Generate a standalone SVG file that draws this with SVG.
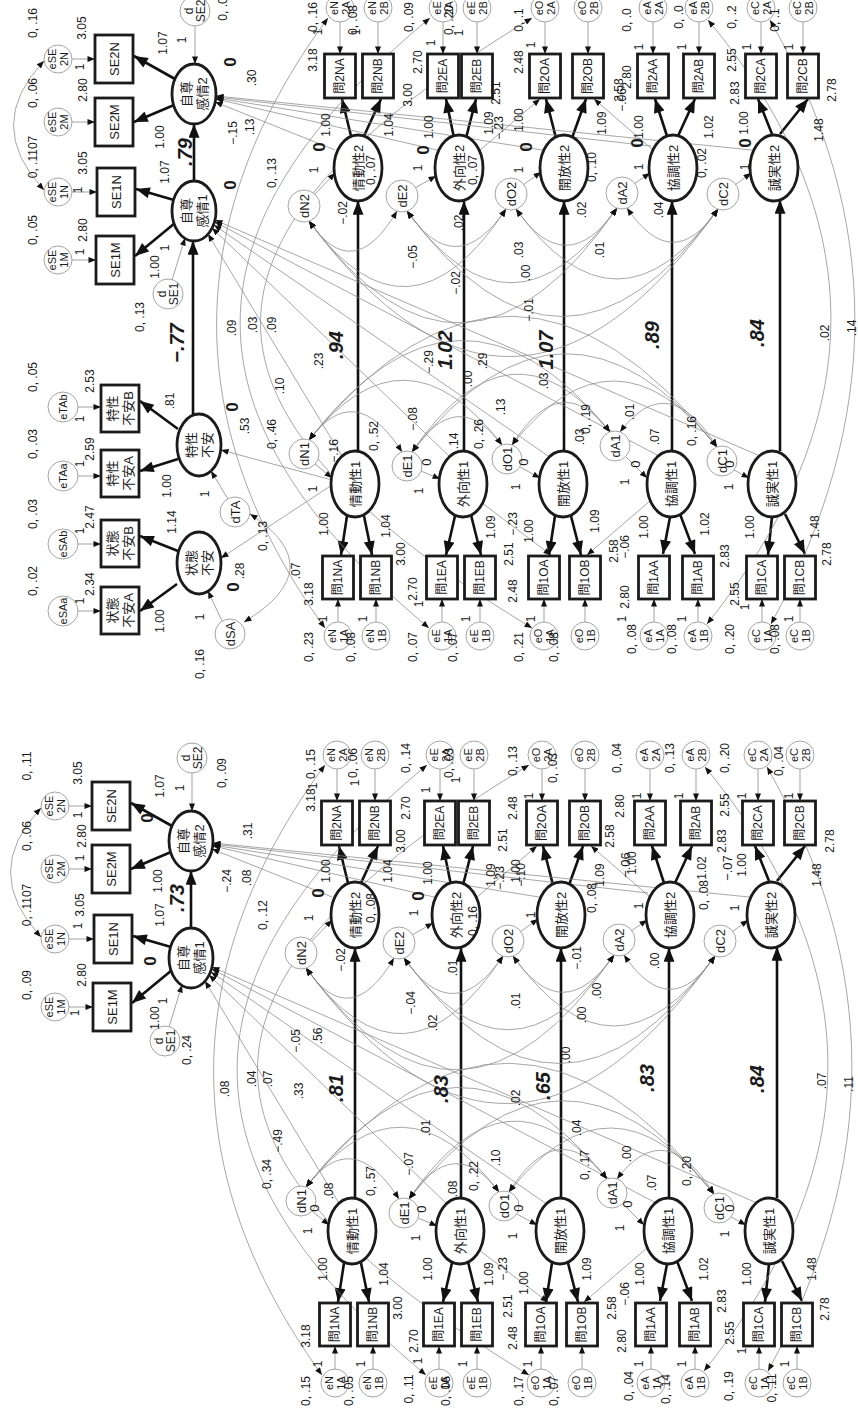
<svg xmlns="http://www.w3.org/2000/svg" width="858" height="1415" viewBox="0 0 858 1415">
<defs>
<style>
.bx{fill:#fff;stroke:#1b1b1b;stroke-width:2.8}
.lv{fill:#fff;stroke:#1b1b1b;stroke-width:2.8}
.ec{fill:#fff;stroke:#9a9a9a;stroke-width:0.9}
.ar{fill:none;stroke:#111;stroke-width:2.6;marker-end:url(#mb)}
.ea{fill:none;stroke:#8a8a8a;stroke-width:0.8;marker-end:url(#ms)}
.cv{fill:none;stroke:#8a8a8a;stroke-width:0.75;marker-start:url(#mr);marker-end:url(#ms)}
.tl{fill:none;stroke:#8a8a8a;stroke-width:0.75;marker-end:url(#ms)}
text{font-family:"Liberation Sans","Noto Sans CJK JP",sans-serif;fill:#1b1b1b;text-anchor:middle;dominant-baseline:central;font-size:12px}
.nt{font-size:13px}
.et{font-size:11px}
.k{font-size:20px;font-weight:bold;font-style:italic}
.z{font-size:17px;font-weight:bold}
</style>
<marker id="mb" viewBox="0 0 10 8" refX="10" refY="4" markerWidth="15" markerHeight="11" markerUnits="userSpaceOnUse" orient="auto"><path d="M0,0 L10,4 L0,8 z" fill="#111"/></marker>
<marker id="ms" viewBox="0 0 10 8" refX="10" refY="4" markerWidth="8" markerHeight="6" markerUnits="userSpaceOnUse" orient="auto"><path d="M0,0 L10,4 L0,8 z" fill="#111"/></marker>
<marker id="mr" viewBox="0 0 10 8" refX="10" refY="4" markerWidth="8" markerHeight="6" markerUnits="userSpaceOnUse" orient="auto-start-reverse"><path d="M0,0 L10,4 L0,8 z" fill="#111"/></marker>
</defs>
<rect x="0" y="0" width="858" height="1415" fill="#fff"/>
<g transform="translate(0,1415) rotate(-90)">

<g id="L">
<g id="L_connectors">
<path class="ar" d="M217,355 H467"/><path class="ar" d="M217,461 H467"/><path class="ar" d="M217,561 H467"/><path class="ar" d="M217,669 H467"/><path class="ar" d="M217,777 H468"/>
<path class="ar" d="M487,191 H544"/>
<path class="ar" d="M445,172 L412,132"/><path class="ar" d="M468,171 L479,133"/><path class="ar" d="M563,171 L546,131"/><path class="ar" d="M589,172 L612,131"/>
<path class="ar" d="M152,344 L113,338"/><path class="ar" d="M152,361 L113,369"/><path class="ar" d="M152,452 L113,443"/><path class="ar" d="M153,468 L113,478"/><path class="ar" d="M152,552 L113,546"/><path class="ar" d="M152,568 L113,578"/><path class="ar" d="M151,667 L114,660"/><path class="ar" d="M154,677 L114,692"/><path class="ar" d="M151,769 L113,765"/><path class="ar" d="M154,782 L114,802"/>
<path class="ar" d="M532,348 L569,339"/><path class="ar" d="M532,361 L569,378"/><path class="ar" d="M530,451 L569,443"/><path class="ar" d="M530,463 L569,473"/><path class="ar" d="M530,553 L569,543"/><path class="ar" d="M530,569 L569,583"/><path class="ar" d="M532,664 L569,652"/><path class="ar" d="M532,675 L569,692"/><path class="ar" d="M534,769 L569,755"/><path class="ar" d="M534,777 L569,805"/>
<path class="ea" d="M46,335 H69"/><path class="ea" d="M46,373 H69"/><path class="ea" d="M46,439 H69"/><path class="ea" d="M46,477 H69"/><path class="ea" d="M46,541 H69"/><path class="ea" d="M46,582 H69"/><path class="ea" d="M46,651 H69"/><path class="ea" d="M46,695 H69"/><path class="ea" d="M46,759 H69"/><path class="ea" d="M46,797 H69"/>
<path class="ea" d="M646,337 H614"/><path class="ea" d="M646,375 H614"/><path class="ea" d="M646,440 H614"/><path class="ea" d="M646,474 H614"/><path class="ea" d="M646,542 H614"/><path class="ea" d="M646,585 H614"/><path class="ea" d="M646,650 H614"/><path class="ea" d="M646,696 H614"/><path class="ea" d="M646,758 H614"/><path class="ea" d="M646,800 H614"/>
<path class="ea" d="M408,69 V93"/><path class="ea" d="M476,69 V94"/><path class="ea" d="M546,69 V92"/><path class="ea" d="M609,69 V92"/>
<path class="ea" d="M388,169 L430,182"/><path class="ea" d="M642,192 H604"/>
<path class="ea" d="M204,312 L190,329"/><path class="ea" d="M197,418 L189,437"/><path class="ea" d="M201,517 L190,537"/><path class="ea" d="M211,623 L190,644"/><path class="ea" d="M198,731 L190,746"/>
<path class="ea" d="M473,311 L495,332"/><path class="ea" d="M480,412 L492,433"/><path class="ea" d="M483,520 L496,538"/><path class="ea" d="M484,631 L495,647"/><path class="ea" d="M483,732 L495,748"/>
<path class="tl" d="M210,340 L434,205"/><path class="tl" d="M210,448 L440,209"/><path class="tl" d="M210,548 L443,211"/><path class="tl" d="M212,656 L446,212"/><path class="tl" d="M212,757 L448,212"/>
<path class="tl" d="M518,332 L566,212"/><path class="tl" d="M518,434 L569,213"/><path class="tl" d="M518,539 L570,213"/><path class="tl" d="M522,648 L571,213"/><path class="tl" d="M518,749 L572,213"/>
<path class="tl" d="M165,479 L113,548"/><path class="tl" d="M167,647 L113,584"/><path class="tl" d="M517,476 L569,537"/><path class="tl" d="M518,650 L569,591"/>
<path class="cv" d="M478,41 Q543,-20 607,41"/>
<path class="cv" d="M447,306 Q382,350 457,394"/><path class="cv" d="M447,306 Q310,405 459,503"/><path class="cv" d="M447,306 Q237,460 460,614"/><path class="cv" d="M447,306 Q170,510 459,715"/>
<path class="cv" d="M457,404 Q385,453 459,503"/><path class="cv" d="M457,404 Q312,509 460,614"/><path class="cv" d="M457,404 Q245,560 459,715"/>
<path class="cv" d="M459,513 Q386,563 460,614"/><path class="cv" d="M459,513 Q319,614 459,715"/><path class="cv" d="M460,624 Q392,670 459,715"/>
<path class="cv" d="M228,306 Q290,352 216,399"/><path class="cv" d="M228,306 Q350,402 223,499"/><path class="cv" d="M228,306 Q423,456 236,607"/><path class="cv" d="M228,306 Q479,510 221,714"/>
<path class="cv" d="M216,409 Q283,454 223,499"/><path class="cv" d="M216,409 Q361,508 236,607"/><path class="cv" d="M216,409 Q410,561 221,714"/>
<path class="cv" d="M223,509 Q301,558 236,607"/><path class="cv" d="M223,509 Q352,611 221,714"/><path class="cv" d="M236,617 Q300,665 221,714"/>
<path class="cv" d="M40,322 C240,177 450,177 650,325"/><path class="cv" d="M40,426 C250,174 440,174 650,427"/><path class="cv" d="M40,529 C260,167 430,167 650,529"/>
<path class="cv" d="M44,704 C250,869 450,869 648,705"/><path class="cv" d="M44,768 C250,880 450,880 648,767"/>
</g>
<g id="L_SE1M"><rect class="bx" x="384" y="93" width="48" height="38"/><text class="nt" x="408" y="112">SE1M</text></g>
<g id="L_SE1N"><rect class="bx" x="452" y="94" width="48" height="38"/><text class="nt" x="476" y="113">SE1N</text></g>
<g id="L_SE2M"><rect class="bx" x="522" y="92" width="48" height="38"/><text class="nt" x="546" y="111">SE2M</text></g>
<g id="L_SE2N"><rect class="bx" x="585" y="92" width="48" height="38"/><text class="nt" x="609" y="111">SE2N</text></g>
<g id="L_eSE1M"><circle class="ec" cx="408" cy="55" r="14"/><text class="et" x="408" y="55"><tspan x="408" dy="-6">eSE</tspan><tspan x="408" dy="12">1M</tspan></text></g>
<g id="L_eSE1N"><circle class="ec" cx="476" cy="55" r="14"/><text class="et" x="476" y="55"><tspan x="476" dy="-6">eSE</tspan><tspan x="476" dy="12">1N</tspan></text></g>
<g id="L_eSE2M"><circle class="ec" cx="546" cy="55" r="14"/><text class="et" x="546" y="55"><tspan x="546" dy="-6">eSE</tspan><tspan x="546" dy="12">2M</tspan></text></g>
<g id="L_eSE2N"><circle class="ec" cx="609" cy="55" r="14"/><text class="et" x="609" y="55"><tspan x="609" dy="-6">eSE</tspan><tspan x="609" dy="12">2N</tspan></text></g>
<g id="L_SE1"><ellipse class="lv" cx="457" cy="191" rx="30" ry="22"/><text class="nt" x="457" y="191"><tspan x="457" dy="-8">自尊</tspan><tspan x="457" dy="16">感情1</tspan></text></g>
<g id="L_SE2"><ellipse class="lv" cx="574" cy="191" rx="30" ry="22"/><text class="nt" x="574" y="191"><tspan x="574" dy="-8">自尊</tspan><tspan x="574" dy="16">感情2</tspan></text></g>
<g id="L_dSE1"><circle class="ec" cx="374" cy="165" r="15"/><text x="374" y="165"><tspan x="374" dy="-6">d</tspan><tspan x="374" dy="12">SE1</tspan></text></g>
<g id="L_dSE2"><circle class="ec" cx="657" cy="192" r="15"/><text x="657" y="192"><tspan x="657" dy="-6">d</tspan><tspan x="657" dy="12">SE2</tspan></text></g>
<g id="L_N1"><ellipse class="lv" cx="184" cy="352" rx="33" ry="24"/><text class="nt" x="184" y="352">情動性1</text></g>
<g id="L_E1"><ellipse class="lv" cx="184" cy="460" rx="33" ry="24"/><text class="nt" x="184" y="460">外向性1</text></g>
<g id="L_O1"><ellipse class="lv" cx="184" cy="560" rx="33" ry="24"/><text class="nt" x="184" y="560">開放性1</text></g>
<g id="L_A1"><ellipse class="lv" cx="184" cy="668" rx="33" ry="24"/><text class="nt" x="184" y="668">協調性1</text></g>
<g id="L_C1"><ellipse class="lv" cx="184" cy="769" rx="33" ry="24"/><text class="nt" x="184" y="769">誠実性1</text></g>
<g id="L_N2"><ellipse class="lv" cx="500" cy="355" rx="33" ry="24"/><text class="nt" x="500" y="355">情動性2</text></g>
<g id="L_E2"><ellipse class="lv" cx="500" cy="456" rx="33" ry="24"/><text class="nt" x="500" y="456">外向性2</text></g>
<g id="L_O2"><ellipse class="lv" cx="500" cy="561" rx="33" ry="24"/><text class="nt" x="500" y="561">開放性2</text></g>
<g id="L_A2"><ellipse class="lv" cx="500" cy="670" rx="33" ry="24"/><text class="nt" x="500" y="670">協調性2</text></g>
<g id="L_C2"><ellipse class="lv" cx="500" cy="771" rx="33" ry="24"/><text class="nt" x="500" y="771">誠実性2</text></g>
<g id="L_dN1"><circle class="ec" cx="214" cy="301" r="15"/><text class="nt" x="214" y="301">dN1</text></g>
<g id="L_dE1"><circle class="ec" cx="202" cy="404" r="15"/><text class="nt" x="202" y="404">dE1</text></g>
<g id="L_dO1"><circle class="ec" cx="209" cy="504" r="15"/><text class="nt" x="209" y="504">dO1</text></g>
<g id="L_dA1"><circle class="ec" cx="222" cy="612" r="15"/><text class="nt" x="222" y="612">dA1</text></g>
<g id="L_dC1"><circle class="ec" cx="207" cy="719" r="15"/><text class="nt" x="207" y="719">dC1</text></g>
<g id="L_dN2"><circle class="ec" cx="462" cy="301" r="16"/><text class="nt" x="462" y="301">dN2</text></g>
<g id="L_dE2"><circle class="ec" cx="472" cy="399" r="16"/><text class="nt" x="472" y="399">dE2</text></g>
<g id="L_dO2"><circle class="ec" cx="474" cy="508" r="16"/><text class="nt" x="474" y="508">dO2</text></g>
<g id="L_dA2"><circle class="ec" cx="475" cy="619" r="16"/><text class="nt" x="475" y="619">dA2</text></g>
<g id="L_dC2"><circle class="ec" cx="474" cy="720" r="16"/><text class="nt" x="474" y="720">dC2</text></g>
<g id="L_q1NA"><rect class="bx" x="69" y="319.5" width="43" height="31"/><text x="90.5" y="335">問1NA</text></g>
<g id="L_q1NB"><rect class="bx" x="69" y="357.5" width="43" height="31"/><text x="90.5" y="373">問1NB</text></g>
<g id="L_q1EA"><rect class="bx" x="69" y="423.5" width="43" height="31"/><text x="90.5" y="439">問1EA</text></g>
<g id="L_q1EB"><rect class="bx" x="69" y="461.5" width="43" height="31"/><text x="90.5" y="477">問1EB</text></g>
<g id="L_q1OA"><rect class="bx" x="69" y="525.5" width="43" height="31"/><text x="90.5" y="541">問1OA</text></g>
<g id="L_q1OB"><rect class="bx" x="69" y="566.5" width="43" height="31"/><text x="90.5" y="582">問1OB</text></g>
<g id="L_q1AA"><rect class="bx" x="69" y="635.5" width="43" height="31"/><text x="90.5" y="651">問1AA</text></g>
<g id="L_q1AB"><rect class="bx" x="69" y="679.5" width="43" height="31"/><text x="90.5" y="695">問1AB</text></g>
<g id="L_q1CA"><rect class="bx" x="69" y="743.5" width="43" height="31"/><text x="90.5" y="759">問1CA</text></g>
<g id="L_q1CB"><rect class="bx" x="69" y="781.5" width="43" height="31"/><text x="90.5" y="797">問1CB</text></g>
<g id="L_q2NA"><rect class="bx" x="570" y="321.5" width="44" height="31"/><text x="592" y="337">問2NA</text></g>
<g id="L_q2NB"><rect class="bx" x="570" y="359.5" width="44" height="31"/><text x="592" y="375">問2NB</text></g>
<g id="L_q2EA"><rect class="bx" x="570" y="424.5" width="44" height="31"/><text x="592" y="440">問2EA</text></g>
<g id="L_q2EB"><rect class="bx" x="570" y="458.5" width="44" height="31"/><text x="592" y="474">問2EB</text></g>
<g id="L_q2OA"><rect class="bx" x="570" y="526.5" width="44" height="31"/><text x="592" y="542">問2OA</text></g>
<g id="L_q2OB"><rect class="bx" x="570" y="569.5" width="44" height="31"/><text x="592" y="585">問2OB</text></g>
<g id="L_q2AA"><rect class="bx" x="570" y="634.5" width="44" height="31"/><text x="592" y="650">問2AA</text></g>
<g id="L_q2AB"><rect class="bx" x="570" y="680.5" width="44" height="31"/><text x="592" y="696">問2AB</text></g>
<g id="L_q2CA"><rect class="bx" x="570" y="742.5" width="44" height="31"/><text x="592" y="758">問2CA</text></g>
<g id="L_q2CB"><rect class="bx" x="570" y="784.5" width="44" height="31"/><text x="592" y="800">問2CB</text></g>
<g id="L_e1NA"><circle class="ec" cx="32" cy="335" r="14"/><text class="et" x="32" y="335"><tspan x="32" dy="-6">eN</tspan><tspan x="32" dy="12">1A</tspan></text></g>
<g id="L_e1NB"><circle class="ec" cx="32" cy="373" r="14"/><text class="et" x="32" y="373"><tspan x="32" dy="-6">eN</tspan><tspan x="32" dy="12">1B</tspan></text></g>
<g id="L_e1EA"><circle class="ec" cx="32" cy="439" r="14"/><text class="et" x="32" y="439"><tspan x="32" dy="-6">eE</tspan><tspan x="32" dy="12">1A</tspan></text></g>
<g id="L_e1EB"><circle class="ec" cx="32" cy="477" r="14"/><text class="et" x="32" y="477"><tspan x="32" dy="-6">eE</tspan><tspan x="32" dy="12">1B</tspan></text></g>
<g id="L_e1OA"><circle class="ec" cx="32" cy="541" r="14"/><text class="et" x="32" y="541"><tspan x="32" dy="-6">eO</tspan><tspan x="32" dy="12">1A</tspan></text></g>
<g id="L_e1OB"><circle class="ec" cx="32" cy="582" r="14"/><text class="et" x="32" y="582"><tspan x="32" dy="-6">eO</tspan><tspan x="32" dy="12">1B</tspan></text></g>
<g id="L_e1AA"><circle class="ec" cx="32" cy="651" r="14"/><text class="et" x="32" y="651"><tspan x="32" dy="-6">eA</tspan><tspan x="32" dy="12">1A</tspan></text></g>
<g id="L_e1AB"><circle class="ec" cx="32" cy="695" r="14"/><text class="et" x="32" y="695"><tspan x="32" dy="-6">eA</tspan><tspan x="32" dy="12">1B</tspan></text></g>
<g id="L_e1CA"><circle class="ec" cx="32" cy="759" r="14"/><text class="et" x="32" y="759"><tspan x="32" dy="-6">eC</tspan><tspan x="32" dy="12">1A</tspan></text></g>
<g id="L_e1CB"><circle class="ec" cx="32" cy="797" r="14"/><text class="et" x="32" y="797"><tspan x="32" dy="-6">eC</tspan><tspan x="32" dy="12">1B</tspan></text></g>
<g id="L_e2NA"><circle class="ec" cx="660" cy="337" r="14"/><text class="et" x="660" y="337"><tspan x="660" dy="-6">eN</tspan><tspan x="660" dy="12">2A</tspan></text></g>
<g id="L_e2NB"><circle class="ec" cx="660" cy="375" r="14"/><text class="et" x="660" y="375"><tspan x="660" dy="-6">eN</tspan><tspan x="660" dy="12">2B</tspan></text></g>
<g id="L_e2EA"><circle class="ec" cx="660" cy="440" r="14"/><text class="et" x="660" y="440"><tspan x="660" dy="-6">eE</tspan><tspan x="660" dy="12">2A</tspan></text></g>
<g id="L_e2EB"><circle class="ec" cx="660" cy="474" r="14"/><text class="et" x="660" y="474"><tspan x="660" dy="-6">eE</tspan><tspan x="660" dy="12">2B</tspan></text></g>
<g id="L_e2OA"><circle class="ec" cx="660" cy="542" r="14"/><text class="et" x="660" y="542"><tspan x="660" dy="-6">eO</tspan><tspan x="660" dy="12">2A</tspan></text></g>
<g id="L_e2OB"><circle class="ec" cx="660" cy="585" r="14"/><text class="et" x="660" y="585"><tspan x="660" dy="-6">eO</tspan><tspan x="660" dy="12">2B</tspan></text></g>
<g id="L_e2AA"><circle class="ec" cx="660" cy="650" r="14"/><text class="et" x="660" y="650"><tspan x="660" dy="-6">eA</tspan><tspan x="660" dy="12">2A</tspan></text></g>
<g id="L_e2AB"><circle class="ec" cx="660" cy="696" r="14"/><text class="et" x="660" y="696"><tspan x="660" dy="-6">eA</tspan><tspan x="660" dy="12">2B</tspan></text></g>
<g id="L_e2CA"><circle class="ec" cx="660" cy="758" r="14"/><text class="et" x="660" y="758"><tspan x="660" dy="-6">eC</tspan><tspan x="660" dy="12">2A</tspan></text></g>
<g id="L_e2CB"><circle class="ec" cx="660" cy="800" r="14"/><text class="et" x="660" y="800"><tspan x="660" dy="-6">eC</tspan><tspan x="660" dy="12">2B</tspan></text></g>
<g id="L_labels">
<text x="649" y="27">0, .11</text><text x="642" y="78">3.05</text><text x="629" y="160">1.07</text><text x="627" y="180">1</text><text x="600" y="78">1</text>
<text x="579" y="27">0, .06</text><text x="579" y="82">2.80</text><text x="557" y="80">1</text><text x="534" y="158">1.00</text><text class="k" x="517" y="177">.73</text>
<text x="510" y="27">0, .1107</text><text x="510" y="80">3.05</text><text x="500" y="160">1.07</text><text x="489" y="78">1</text><text class="z" x="454" y="150">0</text>
<text x="430" y="27">0, .09</text><text x="440" y="82">2.80</text><text x="402" y="75">1</text><text x="397" y="155">1.00</text><text x="414" y="163">1</text><text x="365" y="187">0, .24</text>
<text class="z" x="597" y="147">0</text><text x="642" y="222">0, .09</text><text x="534" y="227">−.24</text><text x="537" y="247">.08</text><text x="584" y="248">.31</text><text x="500" y="263">0, .12</text>
<text x="651" y="311">0, .15</text><text x="629" y="313">1</text><text x="615" y="311">3.18</text><text x="652" y="353">0, .06</text><text x="632" y="355">1</text>
<text x="544" y="326">1.00</text><text class="z" x="522" y="318">0</text><text x="497" y="309">1</text><text x="455" y="341">−.02</text><text x="507" y="371">0, .08</text>
<text x="544" y="388">1.04</text><text x="574" y="401">3.00</text><text x="607" y="406">2.70</text><text x="657" y="406">0, .14</text><text x="625" y="426">1</text><text x="652" y="449">0, .03</text><text x="635" y="456">1</text>
<text x="542" y="428">1.00</text><text class="z" x="519" y="418">0</text><text x="502" y="414">1</text><text x="412" y="411">−.04</text><text x="392" y="433">.02</text><text x="447" y="453">.01</text><text x="494" y="473">0, .16</text>
<text x="540" y="491">1.09</text><text x="537" y="500">−.23</text><text x="575" y="503">2.51</text><text x="544" y="516">1.00</text><text x="540" y="521">−.10</text><text x="607" y="513">2.48</text><text x="654" y="513">0, .13</text><text x="619" y="529">1</text><text x="500" y="531">1</text><text x="414" y="516">.01</text><text x="647" y="553">0, .03</text><text x="360" y="566">.00</text>
<text x="657" y="617">0, .04</text><text x="579" y="610">2.58</text><text x="609" y="620">2.80</text><text x="540" y="600">1.09</text><text x="517" y="592">0, .08</text><text x="457" y="577">−.01</text><text x="509" y="639">1</text>
<text x="552" y="632">1.00</text><text class="nt" x="550" y="625">−.06</text><text x="520" y="704">0, .08</text><text x="547" y="702">1.02</text><text x="657" y="670">0, .13</text><text x="619" y="637">1</text><text x="619" y="679">1</text>
<text x="574" y="722">2.83</text><text x="610" y="725">2.55</text><text x="657" y="725">0, .20</text><text x="619" y="742">1</text><text x="654" y="779">0, .04</text><text x="619" y="789">1</text>
<text class="nt" x="547" y="727">−.07</text><text x="550" y="742">1.00</text><text x="507" y="735">1</text><text x="540" y="817">1.48</text><text x="574" y="830">2.78</text><text x="454" y="655">.00</text><text x="424" y="597">.00</text><text x="400" y="582">.00</text>
<text x="324" y="299">.33</text><text class="k" x="327" y="336">.81</text><text class="k" x="326" y="441">.83</text><text x="287" y="426">.01</text><text x="251" y="409">−.07</text><text x="234" y="371">0, .57</text><text x="224" y="329">.08</text><text class="nt" x="207" y="314">0</text><text x="184" y="308">1</text>
<text x="239" y="474">0, .22</text><text x="226" y="453">.08</text><text class="nt" x="206" y="421">0</text><text x="177" y="416">1</text><text x="257" y="496">.10</text><text x="317" y="516">.02</text><text class="k" x="329" y="543">.65</text><text class="nt" x="207" y="518">0</text><text x="179" y="513">1</text>
<text x="146" y="323">1.00</text><text x="141" y="384">1.04</text><text x="146" y="428">1.00</text><text x="141" y="489">1.09</text><text x="146" y="503">−.23</text><text x="132" y="524">1.00</text><text x="109" y="508">2.51</text><text x="107" y="398">3.00</text><text x="79" y="306">3.18</text><text x="74" y="414">2.70</text><text x="77" y="513">2.48</text>
<text x="51" y="318">1</text><text x="51" y="361">1</text><text x="54" y="418">1</text><text x="51" y="463">1</text><text x="51" y="528">1</text>
<text x="24" y="306">0, .15</text><text x="24" y="349">0, .05</text><text x="26" y="409">0, .11</text><text x="24" y="446">0, .06</text><text x="24" y="519">0, .17</text><text x="24" y="554">0, .07</text>
<text x="287" y="577">.04</text><text x="250" y="585">0, .17</text><text x="261" y="627">.00</text><text x="232" y="652">.07</text><text class="nt" x="211" y="627">0</text><text x="187" y="620">1</text><text class="k" x="337" y="647">.83</text><text class="k" x="336" y="757">.84</text>
<text x="244" y="687">0, .20</text><text class="nt" x="207" y="729">0</text><text x="181" y="725">1</text><text x="334" y="822">.07</text><text x="331" y="849">.11</text>
<text x="146" y="587">1.09</text><text x="107" y="612">2.58</text><text x="121" y="625">−.06</text><text x="141" y="640">1.00</text><text x="146" y="704">1.02</text><text x="74" y="622">2.80</text><text x="114" y="722">2.83</text><text x="82" y="730">2.55</text><text x="141" y="747">1.00</text><text x="146" y="812">1.48</text><text x="106" y="825">2.78</text>
<text x="51" y="639">1</text><text x="51" y="682">1</text><text x="64" y="742">1</text><text x="51" y="785">1</text>
<text x="29" y="629">0, .04</text><text x="26" y="666">0, .14</text><text x="29" y="729">0, .19</text><text x="27" y="772">0, .11</text>
<text x="326" y="225">.08</text><text x="336" y="252">.04</text><text x="336" y="268">.07</text><text x="274" y="278">−.49</text><text x="241" y="267">0, .34</text><text x="374" y="296">−.05</text><text x="379" y="318">.56</text>
</g>
</g>

<g id="R" transform="translate(747,3)">
<g id="R_connectors">
<path class="ar" d="M217,355 H467"/><path class="ar" d="M217,461 H467"/><path class="ar" d="M217,561 H467"/><path class="ar" d="M217,669 H467"/><path class="ar" d="M217,777 H468"/>
<path class="ar" d="M487,191 H544"/><path class="ar" d="M254,190 H427"/>
<path class="ar" d="M445,172 L412,132"/><path class="ar" d="M468,171 L479,133"/><path class="ar" d="M563,171 L546,131"/><path class="ar" d="M589,172 L612,131"/>
<path class="ar" d="M84,174 L57,137"/><path class="ar" d="M117,175 L132,137"/><path class="ar" d="M209,175 L197,137"/><path class="ar" d="M239,175 L267,137"/>
<path class="ar" d="M152,344 L113,338"/><path class="ar" d="M152,361 L113,369"/><path class="ar" d="M152,452 L113,443"/><path class="ar" d="M153,468 L113,478"/><path class="ar" d="M152,552 L113,546"/><path class="ar" d="M152,568 L113,578"/><path class="ar" d="M151,667 L114,660"/><path class="ar" d="M154,677 L114,692"/><path class="ar" d="M151,769 L113,765"/><path class="ar" d="M154,782 L114,802"/>
<path class="ar" d="M532,348 L569,339"/><path class="ar" d="M532,361 L569,378"/><path class="ar" d="M530,451 L569,443"/><path class="ar" d="M530,463 L569,473"/><path class="ar" d="M530,553 L569,543"/><path class="ar" d="M530,569 L569,583"/><path class="ar" d="M532,664 L569,652"/><path class="ar" d="M532,675 L569,692"/><path class="ar" d="M534,769 L569,755"/><path class="ar" d="M534,777 L569,805"/>
<path class="ea" d="M46,335 H69"/><path class="ea" d="M46,373 H69"/><path class="ea" d="M46,439 H69"/><path class="ea" d="M46,477 H69"/><path class="ea" d="M46,541 H69"/><path class="ea" d="M46,582 H69"/><path class="ea" d="M46,651 H69"/><path class="ea" d="M46,695 H69"/><path class="ea" d="M46,759 H69"/><path class="ea" d="M46,797 H69"/>
<path class="ea" d="M646,337 H614"/><path class="ea" d="M646,375 H614"/><path class="ea" d="M646,440 H614"/><path class="ea" d="M646,474 H614"/><path class="ea" d="M646,542 H614"/><path class="ea" d="M646,585 H614"/><path class="ea" d="M646,650 H614"/><path class="ea" d="M646,696 H614"/><path class="ea" d="M646,758 H614"/><path class="ea" d="M646,800 H614"/>
<path class="ea" d="M408,69 V93"/><path class="ea" d="M476,69 V94"/><path class="ea" d="M546,69 V92"/><path class="ea" d="M609,69 V92"/>
<path class="ea" d="M57,75 V98"/><path class="ea" d="M124,75 V98"/><path class="ea" d="M192,75 V98"/><path class="ea" d="M261,75 V98"/>
<path class="ea" d="M388,169 L430,182"/><path class="ea" d="M642,192 H604"/><path class="ea" d="M47,219 L77,205"/><path class="ea" d="M169,225 L197,208"/>
<path class="ea" d="M204,312 L190,329"/><path class="ea" d="M197,418 L189,437"/><path class="ea" d="M201,517 L190,537"/><path class="ea" d="M211,623 L190,644"/><path class="ea" d="M198,731 L190,746"/>
<path class="ea" d="M473,311 L495,332"/><path class="ea" d="M480,412 L492,433"/><path class="ea" d="M483,520 L496,538"/><path class="ea" d="M484,631 L495,647"/><path class="ea" d="M483,732 L495,748"/>
<path class="tl" d="M210,340 L434,205"/><path class="tl" d="M210,448 L440,209"/><path class="tl" d="M210,548 L443,211"/><path class="tl" d="M212,656 L446,212"/><path class="tl" d="M212,757 L448,212"/>
<path class="tl" d="M518,332 L566,212"/><path class="tl" d="M518,434 L569,213"/><path class="tl" d="M518,539 L570,213"/><path class="tl" d="M522,648 L571,213"/><path class="tl" d="M518,749 L572,213"/>
<path class="tl" d="M165,479 L113,548"/><path class="tl" d="M167,647 L113,584"/><path class="tl" d="M517,476 L569,537"/><path class="tl" d="M518,650 L569,591"/>
<path class="tl" d="M188,329 L218,218"/><path class="tl" d="M183,329 L110,218"/>
<path class="cv" d="M478,41 Q543,-20 607,41"/><path class="cv" d="M46,241 Q100,330 154,247"/>
<path class="cv" d="M447,306 Q382,350 457,394"/><path class="cv" d="M447,306 Q310,405 459,503"/><path class="cv" d="M447,306 Q237,460 460,614"/><path class="cv" d="M447,306 Q170,510 459,715"/>
<path class="cv" d="M457,404 Q385,453 459,503"/><path class="cv" d="M457,404 Q312,509 460,614"/><path class="cv" d="M457,404 Q245,560 459,715"/>
<path class="cv" d="M459,513 Q386,563 460,614"/><path class="cv" d="M459,513 Q319,614 459,715"/><path class="cv" d="M460,624 Q392,670 459,715"/>
<path class="cv" d="M228,306 Q290,352 216,399"/><path class="cv" d="M228,306 Q350,402 223,499"/><path class="cv" d="M228,306 Q423,456 236,607"/><path class="cv" d="M228,306 Q479,510 221,714"/>
<path class="cv" d="M216,409 Q283,454 223,499"/><path class="cv" d="M216,409 Q361,508 236,607"/><path class="cv" d="M216,409 Q410,561 221,714"/>
<path class="cv" d="M223,509 Q301,558 236,607"/><path class="cv" d="M223,509 Q352,611 221,714"/><path class="cv" d="M236,617 Q300,665 221,714"/>
<path class="cv" d="M40,322 C240,177 450,177 650,325"/><path class="cv" d="M40,426 C250,174 440,174 650,427"/><path class="cv" d="M40,529 C260,167 430,167 650,529"/>
<path class="cv" d="M44,704 C250,869 450,869 648,705"/><path class="cv" d="M44,768 C250,880 450,880 648,767"/>
</g>
<g id="R_SE1M"><rect class="bx" x="384" y="93" width="48" height="38"/><text class="nt" x="408" y="112">SE1M</text></g>
<g id="R_SE1N"><rect class="bx" x="452" y="94" width="48" height="38"/><text class="nt" x="476" y="113">SE1N</text></g>
<g id="R_SE2M"><rect class="bx" x="522" y="92" width="48" height="38"/><text class="nt" x="546" y="111">SE2M</text></g>
<g id="R_SE2N"><rect class="bx" x="585" y="92" width="48" height="38"/><text class="nt" x="609" y="111">SE2N</text></g>
<g id="R_eSE1M"><circle class="ec" cx="408" cy="55" r="14"/><text class="et" x="408" y="55"><tspan x="408" dy="-6">eSE</tspan><tspan x="408" dy="12">1M</tspan></text></g>
<g id="R_eSE1N"><circle class="ec" cx="476" cy="55" r="14"/><text class="et" x="476" y="55"><tspan x="476" dy="-6">eSE</tspan><tspan x="476" dy="12">1N</tspan></text></g>
<g id="R_eSE2M"><circle class="ec" cx="546" cy="55" r="14"/><text class="et" x="546" y="55"><tspan x="546" dy="-6">eSE</tspan><tspan x="546" dy="12">2M</tspan></text></g>
<g id="R_eSE2N"><circle class="ec" cx="609" cy="55" r="14"/><text class="et" x="609" y="55"><tspan x="609" dy="-6">eSE</tspan><tspan x="609" dy="12">2N</tspan></text></g>
<g id="R_SE1"><ellipse class="lv" cx="457" cy="191" rx="30" ry="22"/><text class="nt" x="457" y="191"><tspan x="457" dy="-8">自尊</tspan><tspan x="457" dy="16">感情1</tspan></text></g>
<g id="R_SE2"><ellipse class="lv" cx="574" cy="191" rx="30" ry="22"/><text class="nt" x="574" y="191"><tspan x="574" dy="-8">自尊</tspan><tspan x="574" dy="16">感情2</tspan></text></g>
<g id="R_dSE1"><circle class="ec" cx="374" cy="165" r="15"/><text x="374" y="165"><tspan x="374" dy="-6">d</tspan><tspan x="374" dy="12">SE1</tspan></text></g>
<g id="R_dSE2"><circle class="ec" cx="657" cy="192" r="15"/><text x="657" y="192"><tspan x="657" dy="-6">d</tspan><tspan x="657" dy="12">SE2</tspan></text></g>
<g id="R_SAa"><rect class="bx" x="34" y="98" width="47" height="38"/><text class="nt" x="57.5" y="117"><tspan x="57.5" dy="-8">状態</tspan><tspan x="57.5" dy="16">不安A</tspan></text></g>
<g id="R_SAb"><rect class="bx" x="101" y="98" width="47" height="38"/><text class="nt" x="124.5" y="117"><tspan x="124.5" dy="-8">状態</tspan><tspan x="124.5" dy="16">不安B</tspan></text></g>
<g id="R_TAa"><rect class="bx" x="171" y="98" width="47" height="38"/><text class="nt" x="194.5" y="117"><tspan x="194.5" dy="-8">特性</tspan><tspan x="194.5" dy="16">不安A</tspan></text></g>
<g id="R_TAb"><rect class="bx" x="236" y="98" width="47" height="38"/><text class="nt" x="259.5" y="117"><tspan x="259.5" dy="-8">特性</tspan><tspan x="259.5" dy="16">不安B</tspan></text></g>
<g id="R_eSAa"><circle class="ec" cx="57" cy="60" r="15"/><text class="et" x="57" y="60">eSAa</text></g>
<g id="R_eSAb"><circle class="ec" cx="124" cy="60" r="15"/><text class="et" x="124" y="60">eSAb</text></g>
<g id="R_eTAa"><circle class="ec" cx="192" cy="60" r="15"/><text class="et" x="192" y="60">eTAa</text></g>
<g id="R_eTAb"><circle class="ec" cx="261" cy="60" r="15"/><text class="et" x="261" y="60">eTAb</text></g>
<g id="R_SA"><ellipse class="lv" cx="105" cy="196" rx="31" ry="22"/><text class="nt" x="105" y="196"><tspan x="105" dy="-8">状態</tspan><tspan x="105" dy="16">不安</tspan></text></g>
<g id="R_TA"><ellipse class="lv" cx="223" cy="196" rx="31" ry="22"/><text class="nt" x="223" y="196"><tspan x="223" dy="-8">特性</tspan><tspan x="223" dy="16">不安</tspan></text></g>
<g id="R_dSA"><circle class="ec" cx="34" cy="227" r="15"/><text class="nt" x="34" y="227">dSA</text></g>
<g id="R_dTA"><circle class="ec" cx="156" cy="232" r="15"/><text class="nt" x="156" y="232">dTA</text></g>
<g id="R_N1"><ellipse class="lv" cx="184" cy="352" rx="33" ry="24"/><text class="nt" x="184" y="352">情動性1</text></g>
<g id="R_E1"><ellipse class="lv" cx="184" cy="460" rx="33" ry="24"/><text class="nt" x="184" y="460">外向性1</text></g>
<g id="R_O1"><ellipse class="lv" cx="184" cy="560" rx="33" ry="24"/><text class="nt" x="184" y="560">開放性1</text></g>
<g id="R_A1"><ellipse class="lv" cx="184" cy="668" rx="33" ry="24"/><text class="nt" x="184" y="668">協調性1</text></g>
<g id="R_C1"><ellipse class="lv" cx="184" cy="769" rx="33" ry="24"/><text class="nt" x="184" y="769">誠実性1</text></g>
<g id="R_N2"><ellipse class="lv" cx="500" cy="355" rx="33" ry="24"/><text class="nt" x="500" y="355">情動性2</text></g>
<g id="R_E2"><ellipse class="lv" cx="500" cy="456" rx="33" ry="24"/><text class="nt" x="500" y="456">外向性2</text></g>
<g id="R_O2"><ellipse class="lv" cx="500" cy="561" rx="33" ry="24"/><text class="nt" x="500" y="561">開放性2</text></g>
<g id="R_A2"><ellipse class="lv" cx="500" cy="670" rx="33" ry="24"/><text class="nt" x="500" y="670">協調性2</text></g>
<g id="R_C2"><ellipse class="lv" cx="500" cy="771" rx="33" ry="24"/><text class="nt" x="500" y="771">誠実性2</text></g>
<g id="R_dN1"><circle class="ec" cx="214" cy="301" r="15"/><text class="nt" x="214" y="301">dN1</text></g>
<g id="R_dE1"><circle class="ec" cx="202" cy="404" r="15"/><text class="nt" x="202" y="404">dE1</text></g>
<g id="R_dO1"><circle class="ec" cx="209" cy="504" r="15"/><text class="nt" x="209" y="504">dO1</text></g>
<g id="R_dA1"><circle class="ec" cx="222" cy="612" r="15"/><text class="nt" x="222" y="612">dA1</text></g>
<g id="R_dC1"><circle class="ec" cx="207" cy="719" r="15"/><text class="nt" x="207" y="719">dC1</text></g>
<g id="R_dN2"><circle class="ec" cx="462" cy="301" r="16"/><text class="nt" x="462" y="301">dN2</text></g>
<g id="R_dE2"><circle class="ec" cx="472" cy="399" r="16"/><text class="nt" x="472" y="399">dE2</text></g>
<g id="R_dO2"><circle class="ec" cx="474" cy="508" r="16"/><text class="nt" x="474" y="508">dO2</text></g>
<g id="R_dA2"><circle class="ec" cx="475" cy="619" r="16"/><text class="nt" x="475" y="619">dA2</text></g>
<g id="R_dC2"><circle class="ec" cx="474" cy="720" r="16"/><text class="nt" x="474" y="720">dC2</text></g>
<g id="R_q1NA"><rect class="bx" x="69" y="319.5" width="43" height="31"/><text x="90.5" y="335">問1NA</text></g>
<g id="R_q1NB"><rect class="bx" x="69" y="357.5" width="43" height="31"/><text x="90.5" y="373">問1NB</text></g>
<g id="R_q1EA"><rect class="bx" x="69" y="423.5" width="43" height="31"/><text x="90.5" y="439">問1EA</text></g>
<g id="R_q1EB"><rect class="bx" x="69" y="461.5" width="43" height="31"/><text x="90.5" y="477">問1EB</text></g>
<g id="R_q1OA"><rect class="bx" x="69" y="525.5" width="43" height="31"/><text x="90.5" y="541">問1OA</text></g>
<g id="R_q1OB"><rect class="bx" x="69" y="566.5" width="43" height="31"/><text x="90.5" y="582">問1OB</text></g>
<g id="R_q1AA"><rect class="bx" x="69" y="635.5" width="43" height="31"/><text x="90.5" y="651">問1AA</text></g>
<g id="R_q1AB"><rect class="bx" x="69" y="679.5" width="43" height="31"/><text x="90.5" y="695">問1AB</text></g>
<g id="R_q1CA"><rect class="bx" x="69" y="743.5" width="43" height="31"/><text x="90.5" y="759">問1CA</text></g>
<g id="R_q1CB"><rect class="bx" x="69" y="781.5" width="43" height="31"/><text x="90.5" y="797">問1CB</text></g>
<g id="R_q2NA"><rect class="bx" x="570" y="321.5" width="44" height="31"/><text x="592" y="337">問2NA</text></g>
<g id="R_q2NB"><rect class="bx" x="570" y="359.5" width="44" height="31"/><text x="592" y="375">問2NB</text></g>
<g id="R_q2EA"><rect class="bx" x="570" y="424.5" width="44" height="31"/><text x="592" y="440">問2EA</text></g>
<g id="R_q2EB"><rect class="bx" x="570" y="458.5" width="44" height="31"/><text x="592" y="474">問2EB</text></g>
<g id="R_q2OA"><rect class="bx" x="570" y="526.5" width="44" height="31"/><text x="592" y="542">問2OA</text></g>
<g id="R_q2OB"><rect class="bx" x="570" y="569.5" width="44" height="31"/><text x="592" y="585">問2OB</text></g>
<g id="R_q2AA"><rect class="bx" x="570" y="634.5" width="44" height="31"/><text x="592" y="650">問2AA</text></g>
<g id="R_q2AB"><rect class="bx" x="570" y="680.5" width="44" height="31"/><text x="592" y="696">問2AB</text></g>
<g id="R_q2CA"><rect class="bx" x="570" y="742.5" width="44" height="31"/><text x="592" y="758">問2CA</text></g>
<g id="R_q2CB"><rect class="bx" x="570" y="784.5" width="44" height="31"/><text x="592" y="800">問2CB</text></g>
<g id="R_e1NA"><circle class="ec" cx="32" cy="335" r="14"/><text class="et" x="32" y="335"><tspan x="32" dy="-6">eN</tspan><tspan x="32" dy="12">1A</tspan></text></g>
<g id="R_e1NB"><circle class="ec" cx="32" cy="373" r="14"/><text class="et" x="32" y="373"><tspan x="32" dy="-6">eN</tspan><tspan x="32" dy="12">1B</tspan></text></g>
<g id="R_e1EA"><circle class="ec" cx="32" cy="439" r="14"/><text class="et" x="32" y="439"><tspan x="32" dy="-6">eE</tspan><tspan x="32" dy="12">1A</tspan></text></g>
<g id="R_e1EB"><circle class="ec" cx="32" cy="477" r="14"/><text class="et" x="32" y="477"><tspan x="32" dy="-6">eE</tspan><tspan x="32" dy="12">1B</tspan></text></g>
<g id="R_e1OA"><circle class="ec" cx="32" cy="541" r="14"/><text class="et" x="32" y="541"><tspan x="32" dy="-6">eO</tspan><tspan x="32" dy="12">1A</tspan></text></g>
<g id="R_e1OB"><circle class="ec" cx="32" cy="582" r="14"/><text class="et" x="32" y="582"><tspan x="32" dy="-6">eO</tspan><tspan x="32" dy="12">1B</tspan></text></g>
<g id="R_e1AA"><circle class="ec" cx="32" cy="651" r="14"/><text class="et" x="32" y="651"><tspan x="32" dy="-6">eA</tspan><tspan x="32" dy="12">1A</tspan></text></g>
<g id="R_e1AB"><circle class="ec" cx="32" cy="695" r="14"/><text class="et" x="32" y="695"><tspan x="32" dy="-6">eA</tspan><tspan x="32" dy="12">1B</tspan></text></g>
<g id="R_e1CA"><circle class="ec" cx="32" cy="759" r="14"/><text class="et" x="32" y="759"><tspan x="32" dy="-6">eC</tspan><tspan x="32" dy="12">1A</tspan></text></g>
<g id="R_e1CB"><circle class="ec" cx="32" cy="797" r="14"/><text class="et" x="32" y="797"><tspan x="32" dy="-6">eC</tspan><tspan x="32" dy="12">1B</tspan></text></g>
<g id="R_e2NA"><circle class="ec" cx="660" cy="337" r="14"/><text class="et" x="660" y="337"><tspan x="660" dy="-6">eN</tspan><tspan x="660" dy="12">2A</tspan></text></g>
<g id="R_e2NB"><circle class="ec" cx="660" cy="375" r="14"/><text class="et" x="660" y="375"><tspan x="660" dy="-6">eN</tspan><tspan x="660" dy="12">2B</tspan></text></g>
<g id="R_e2EA"><circle class="ec" cx="660" cy="440" r="14"/><text class="et" x="660" y="440"><tspan x="660" dy="-6">eE</tspan><tspan x="660" dy="12">2A</tspan></text></g>
<g id="R_e2EB"><circle class="ec" cx="660" cy="474" r="14"/><text class="et" x="660" y="474"><tspan x="660" dy="-6">eE</tspan><tspan x="660" dy="12">2B</tspan></text></g>
<g id="R_e2OA"><circle class="ec" cx="660" cy="542" r="14"/><text class="et" x="660" y="542"><tspan x="660" dy="-6">eO</tspan><tspan x="660" dy="12">2A</tspan></text></g>
<g id="R_e2OB"><circle class="ec" cx="660" cy="585" r="14"/><text class="et" x="660" y="585"><tspan x="660" dy="-6">eO</tspan><tspan x="660" dy="12">2B</tspan></text></g>
<g id="R_e2AA"><circle class="ec" cx="660" cy="650" r="14"/><text class="et" x="660" y="650"><tspan x="660" dy="-6">eA</tspan><tspan x="660" dy="12">2A</tspan></text></g>
<g id="R_e2AB"><circle class="ec" cx="660" cy="696" r="14"/><text class="et" x="660" y="696"><tspan x="660" dy="-6">eA</tspan><tspan x="660" dy="12">2B</tspan></text></g>
<g id="R_e2CA"><circle class="ec" cx="660" cy="758" r="14"/><text class="et" x="660" y="758"><tspan x="660" dy="-6">eC</tspan><tspan x="660" dy="12">2A</tspan></text></g>
<g id="R_e2CB"><circle class="ec" cx="660" cy="800" r="14"/><text class="et" x="660" y="800"><tspan x="660" dy="-6">eC</tspan><tspan x="660" dy="12">2B</tspan></text></g>
<g id="R_labels">
<text x="645" y="30">0, .16</text><text x="640" y="79">3.05</text><text x="625" y="160">1.07</text><text x="628" y="179">1</text><text x="601" y="77">1</text>
<text x="575" y="30">0, .06</text><text x="578" y="80">2.80</text><text x="531" y="157">1.00</text><text class="k" x="516" y="182">.79</text>
<text x="511" y="30">0, .1107</text><text x="496" y="162">1.07</text><text x="505" y="80">3.05</text><text x="478" y="75">1</text>
<text x="438" y="30">0, .05</text><text x="438" y="80">2.80</text><text x="416" y="77">1</text><text x="401" y="152">1.00</text><text x="420" y="162">1</text>
<text class="z" x="606" y="227">0</text><text class="z" x="483" y="227">0</text><text x="590" y="249">.30</text><text x="535" y="230">−.15</text><text x="541" y="247">.13</text><text x="495" y="269">0, .13</text>
<text x="351" y="137">0, .13</text><text x="659" y="220">0, .0</text><text class="k" x="325" y="174">−.77</text><text x="340" y="229">.09</text><text x="343" y="250">.03</text><text x="343" y="269">.09</text>
<text x="291" y="30">0, .05</text><text x="287" y="87">2.53</text><text x="249" y="77">1</text><text x="224" y="30">0, .03</text><text x="219" y="87">2.59</text><text x="204" y="77">1</text>
<text x="267" y="167">.81</text><text x="182" y="164">1.00</text><text x="174" y="202">1</text><text x="154" y="30">0, .03</text><text x="151" y="87">2.47</text><text x="137" y="77">1</text><text x="146" y="169">1.14</text>
<text x="87" y="30">0, .02</text><text x="84" y="87">2.34</text><text x="67" y="77">1</text><text x="47" y="157">1.00</text><text x="51" y="197">1</text>
<text class="z" x="81" y="230">0</text><text x="97" y="237">.28</text><text x="4" y="197">0, .16</text><text x="132" y="260">0, .13</text><text x="242" y="242">.53</text><text class="z" x="261" y="229">0</text><text x="234" y="269">0, .46</text><text x="282" y="277">.10</text>
<text x="307" y="316">.23</text><text x="97" y="293">.07</text><text x="21" y="306">0, .23</text><text x="21" y="348">0, .08</text><text x="74" y="306">3.18</text><text x="49" y="320">1</text><text x="49" y="360">1</text>
<text x="217" y="331">−.16</text><text x="179" y="310">1</text><text x="144" y="321">1.00</text><text x="142" y="383">1.04</text><text x="114" y="398">3.00</text><text x="79" y="410">2.70</text>
<text x="232" y="371">0, .52</text><text x="249" y="410">−.08</text><text class="nt" x="206" y="423">0</text><text x="177" y="416">1</text><text x="64" y="416">1</text><text x="49" y="463">1</text>
<text x="21" y="410">0, .07</text><text x="21" y="450">0, .07</text><text x="227" y="451">.14</text><text x="234" y="476">0, .26</text><text x="261" y="498">.13</text><text class="nt" x="206" y="520">0</text><text x="181" y="513">1</text>
<text x="141" y="488">1.09</text><text x="144" y="510">−.23</text><text x="137" y="526">1.00</text><text x="114" y="506">2.51</text><text x="77" y="510">2.48</text><text x="49" y="528">1</text><text x="21" y="516">0, .21</text><text x="21" y="551">0, .08</text>
<text x="306" y="426">−.29</text><text x="289" y="465">.00</text><text x="307" y="480">.29</text><text x="287" y="541">.03</text>
<text class="k" x="318" y="442">1.02</text><text class="k" x="318" y="543">1.07</text><text class="k" x="323" y="333">.94</text><text class="k" x="333" y="649">.89</text><text class="k" x="335" y="754">.84</text>
<text x="231" y="577">.03</text><text x="249" y="583">0, .19</text><text x="256" y="627">.01</text><text x="231" y="652">.07</text><text class="nt" x="204" y="632">0</text><text x="186" y="622">1</text>
<text x="237" y="689">0, .16</text><text class="nt" x="204" y="726">0</text><text x="181" y="726">1</text>
<text x="147" y="592">1.09</text><text x="117" y="611">2.58</text><text x="121" y="622">−.06</text><text x="141" y="641">1.00</text><text x="144" y="702">1.02</text><text x="71" y="622">2.80</text><text x="112" y="722">2.83</text><text x="74" y="732">2.55</text>
<text x="141" y="747">1.00</text><text x="141" y="812">1.48</text><text x="114" y="824">2.78</text><text x="49" y="619">1</text><text x="49" y="679">1</text><text x="61" y="742">1</text><text x="49" y="786">1</text>
<text x="29" y="629">0, .08</text><text x="29" y="669">0, .08</text><text x="29" y="727">0, .20</text><text x="29" y="772">0, .08</text>
<text x="608" y="310">3.18</text><text x="651" y="310">0, .16</text><text x="636" y="315">1</text><text x="648" y="350">0, .08</text><text x="636" y="353">1</text>
<text x="543" y="323">1.00</text><text class="z" x="521" y="316">0</text><text x="498" y="311">1</text><text x="498" y="368">0, .07</text><text x="455" y="340">−.02</text>
<text x="543" y="386">1.04</text><text x="573" y="405">3.00</text><text x="606" y="415">2.70</text><text x="651" y="406">0, .09</text><text x="625" y="428">1</text><text x="648" y="446">0, .20</text><text x="635" y="456">1</text>
<text x="541" y="426">1.00</text><text class="z" x="518" y="420">0</text><text x="500" y="415">1</text><text x="498" y="470">0, .07</text>
<text x="545" y="486">1.09</text><text x="540" y="496">−.23</text><text x="575" y="493">2.51</text><text x="548" y="516">1.00</text><text class="z" x="521" y="523">0</text><text x="498" y="516">1</text>
<text x="445" y="456">.02</text><text x="411" y="410">−.05</text><text x="385" y="453">−.02</text><text x="418" y="516">.03</text><text x="395" y="523">.00</text><text x="358" y="526">−.01</text>
<text x="606" y="516">2.48</text><text x="623" y="528">1</text><text x="648" y="516">0, .1</text>
<text x="648" y="624">0, .0</text><text x="651" y="676">0, .0</text><text x="651" y="729">0, .2</text><text x="648" y="772">0, .1</text>
<text x="591" y="624">2.80</text><text x="578" y="616">2.58</text><text x="568" y="619">−.06</text><text x="621" y="636">1</text><text x="621" y="679">1</text>
<text x="545" y="599">1.09</text><text x="501" y="589">0, .10</text><text x="541" y="636">1.00</text><text class="z" x="525" y="634">0</text><text x="501" y="636">1</text>
<text x="505" y="699">0, .02</text><text x="541" y="706">1.02</text><text x="458" y="656">.04</text><text x="458" y="579">.02</text><text x="418" y="597">.01</text>
<text x="575" y="732">2.83</text><text x="608" y="729">2.55</text><text x="621" y="744">1</text><text x="621" y="786">1</text>
<text x="545" y="741">1.00</text><text class="z" x="525" y="742">0</text><text x="501" y="742">1</text><text x="538" y="816">1.48</text><text x="578" y="829">2.78</text><text x="335" y="822">.02</text><text x="340" y="849">.14</text>
</g>
</g>
</g>
</svg>
